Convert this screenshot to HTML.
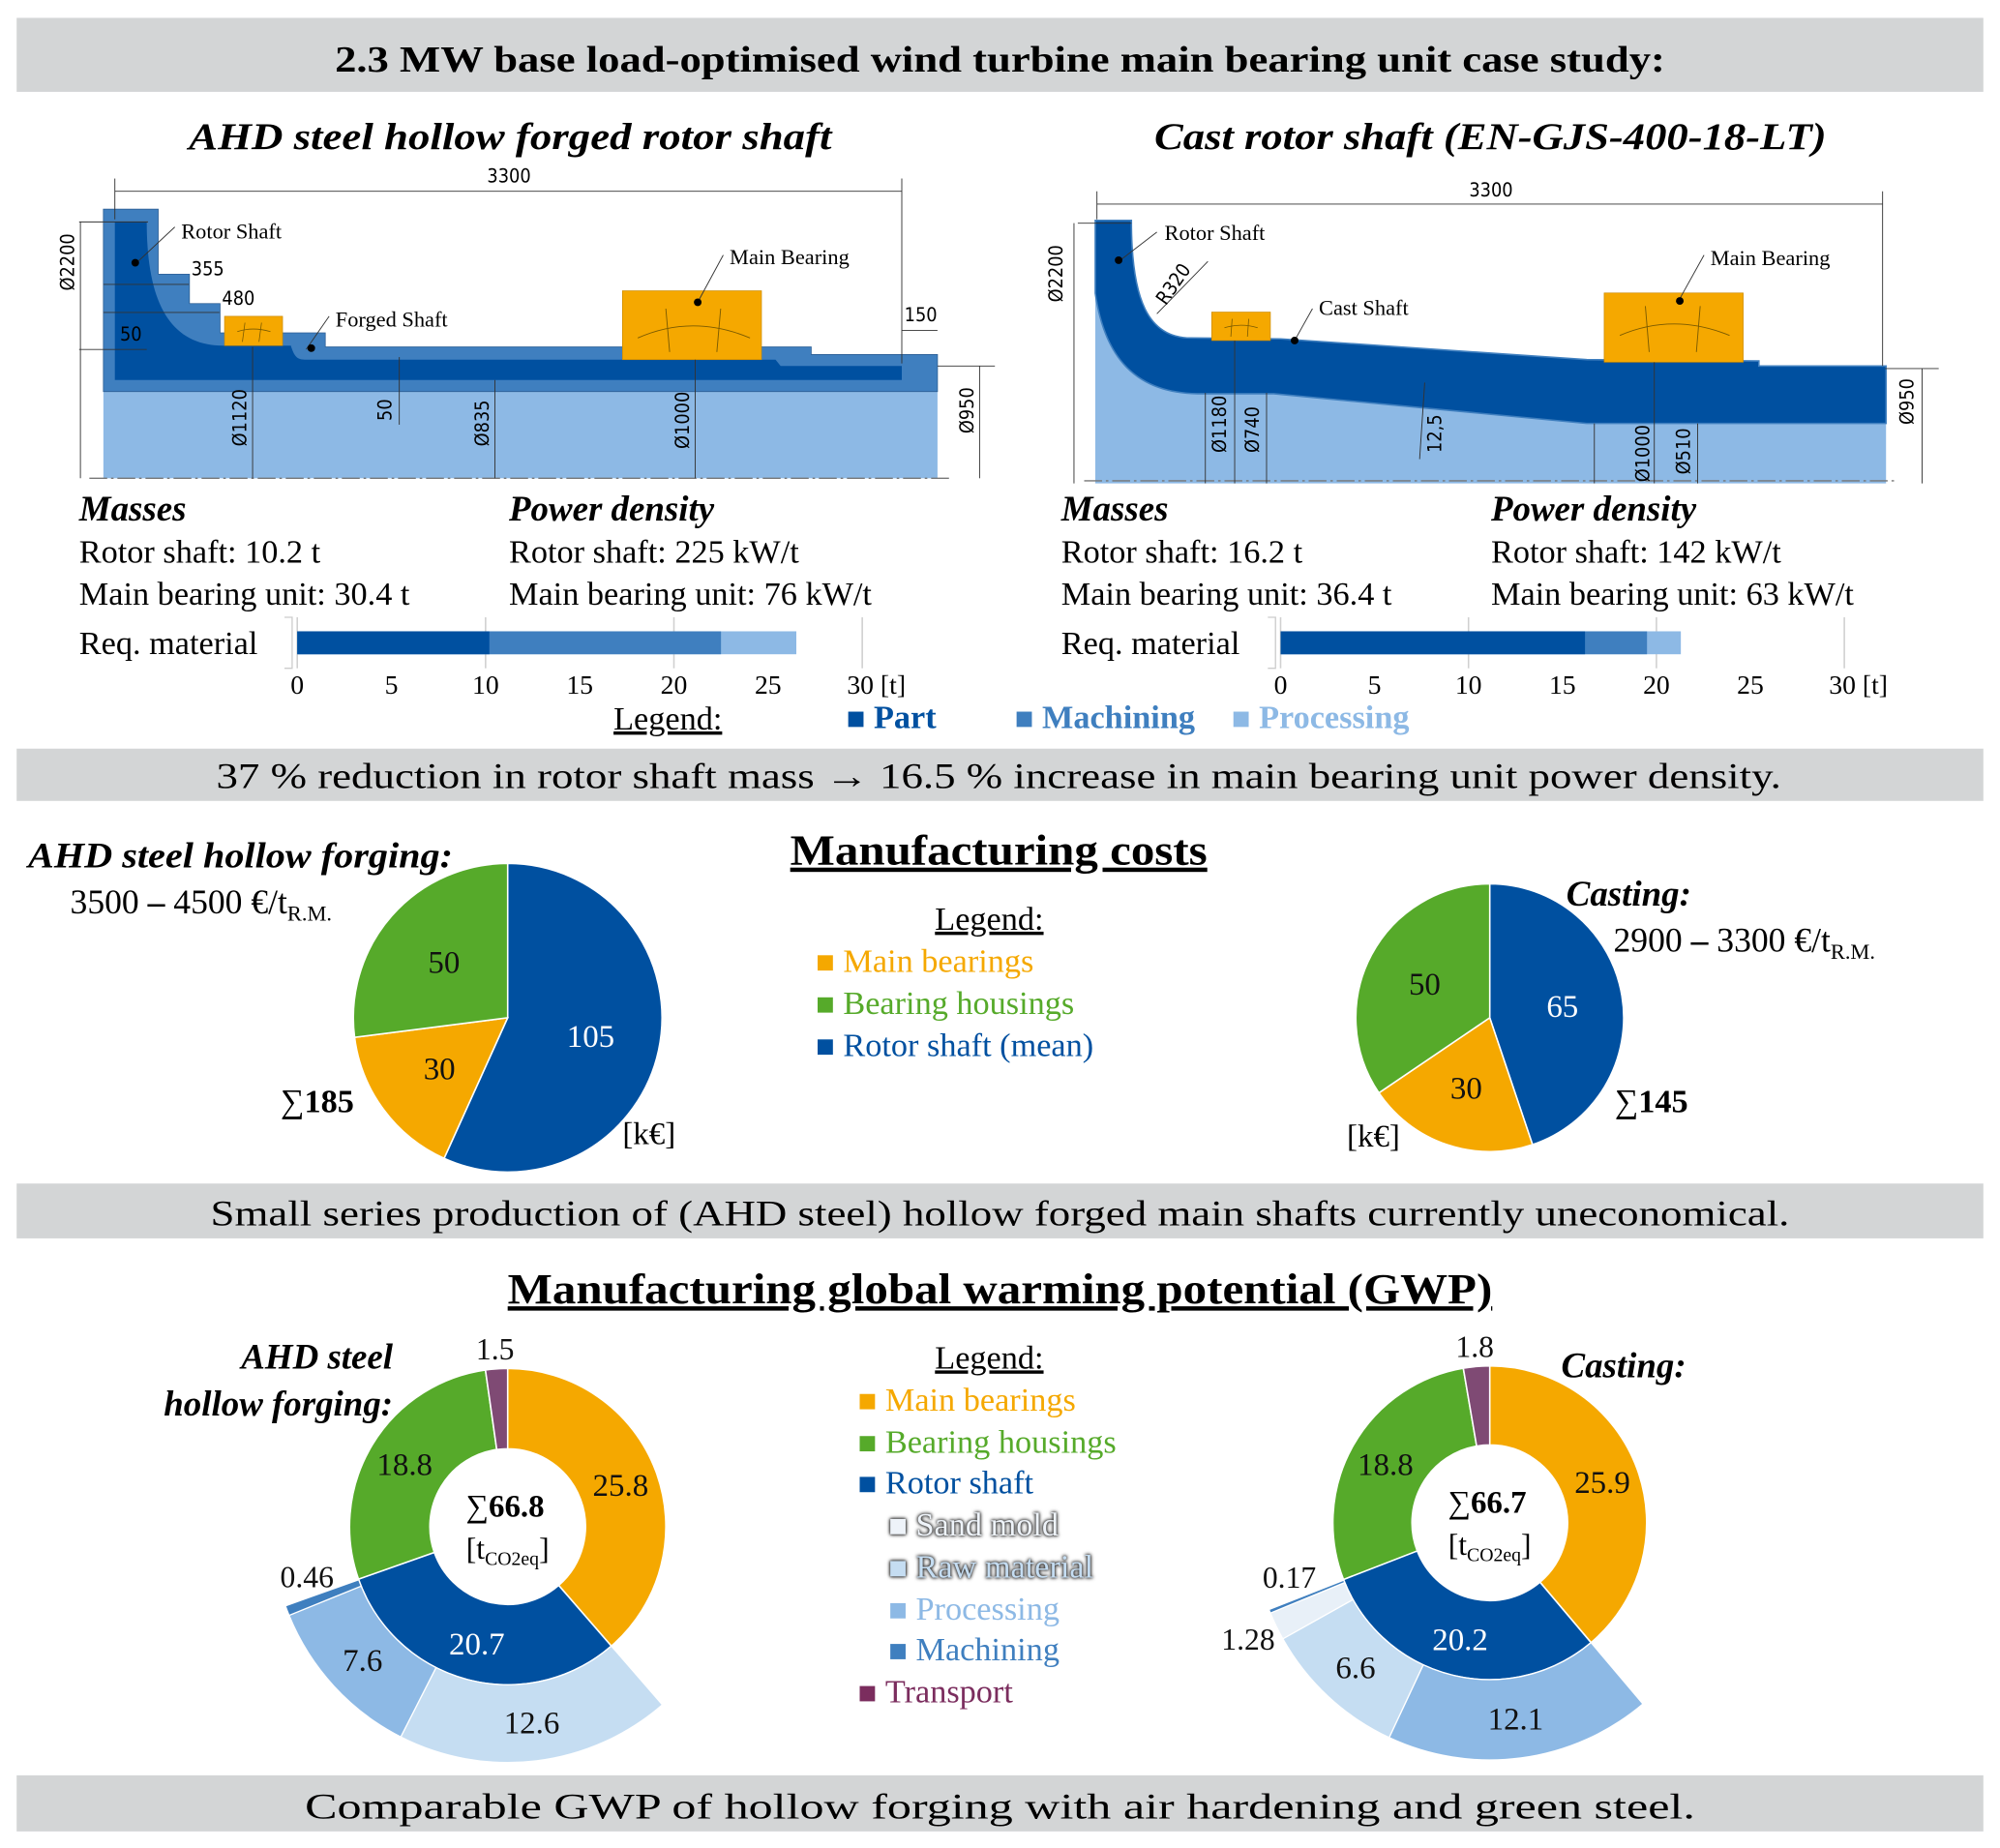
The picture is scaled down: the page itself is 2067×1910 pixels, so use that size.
<!DOCTYPE html>
<html><head><meta charset="utf-8">
<style>
html,body{margin:0;padding:0;background:#fff;}
svg{display:block;font-family:"Liberation Serif",serif;}
.sh{filter:drop-shadow(0 0 1.5px #222) drop-shadow(0 0 1px #444);}
</style></head>
<body>
<svg id="root" width="2067" height="1910" viewBox="0 0 1568 1449" xmlns="http://www.w3.org/2000/svg">
<rect x="13" y="14" width="1542" height="58" fill="#d3d5d6"/>
<text x="784" y="56" text-anchor="middle" font-size="29" font-weight="bold" textLength="1043" lengthAdjust="spacingAndGlyphs">2.3 MW base load-optimised wind turbine main bearing unit case study:</text>

<text x="148" y="117" font-size="30" font-weight="bold" font-style="italic" textLength="504" lengthAdjust="spacingAndGlyphs">AHD steel hollow forged rotor shaft</text>
<text x="905" y="117" font-size="30" font-weight="bold" font-style="italic" textLength="527" lengthAdjust="spacingAndGlyphs">Cast rotor shaft (EN-GJS-400-18-LT)</text>

<g font-family="'DejaVu Sans Condensed','Liberation Sans',sans-serif" font-size="15">
<rect x="81" y="307" width="654" height="68" fill="#8db9e5"/>
<path d="M81,164 L124,164 L124,215 L148.5,215 L148.5,238 L172.5,238 L172.5,261 L255,261 L255,272 L636,272 L636,278 L735,278 L735,307 L81,307 Z" fill="#3f7fbf" stroke="#2d5f95" stroke-width="0.6"/>
<path d="M90,174 L115,174 C115,240 135,271 175,271 L228,271 C231,281 234,282 240,282 L608,282 L612,287 L707,287 L707,298 L90,298 Z" fill="#0050a0"/>
<rect x="176" y="248" width="45.5" height="23" fill="#f5a800" stroke="#c98800" stroke-width="0.5"/>
<rect x="488" y="228" width="109" height="54" fill="#f5a800" stroke="#c98800" stroke-width="0.5"/>
<path d="M186,260 Q198,256 212,260 M192,253 L190,268 M205,253 L203,268" stroke="#7a5a00" fill="none" stroke-width="0.6"/>
<path d="M500,265 Q543,246 588,265 M522,242 L525,276 M565,242 L562,276" stroke="#7a5a00" fill="none" stroke-width="0.7"/>
<line x1="70" y1="375" x2="745" y2="375" stroke="#777" stroke-dasharray="14,3,2,3" stroke-width="1"/>
<g stroke="#333" stroke-width="0.7" fill="none">
<line x1="90" y1="150" x2="707" y2="150"/><line x1="90" y1="140" x2="90" y2="172"/><line x1="707" y1="140" x2="707" y2="285"/>
<line x1="62" y1="174" x2="116" y2="174"/><line x1="63" y1="174" x2="63" y2="375"/>
<line x1="198" y1="272" x2="198" y2="375"/><line x1="388" y1="298" x2="388" y2="375"/><line x1="545" y1="282" x2="545" y2="375"/>
<line x1="313" y1="280" x2="313" y2="333"/><line x1="735" y1="287" x2="780" y2="287"/><line x1="768" y1="287" x2="768" y2="375"/>
<line x1="707" y1="259" x2="735" y2="259"/><line x1="81" y1="223" x2="148" y2="223"/><line x1="81" y1="245" x2="172" y2="245"/>
<line x1="62" y1="274" x2="115" y2="274"/>
<line x1="106" y1="207" x2="137" y2="178"/><line x1="240" y1="274" x2="258" y2="248"/><line x1="547" y1="237" x2="567" y2="200"/>
</g>
<circle cx="106" cy="206" r="3" fill="#000"/><circle cx="244" cy="273" r="3" fill="#000"/><circle cx="547" cy="237" r="3" fill="#000"/>
<text x="399" y="143" text-anchor="middle">3300</text>
<text x="142" y="187" font-family="'Liberation Serif',serif" font-size="17">Rotor Shaft</text>
<text x="150" y="216">355</text><text x="174" y="239">480</text><text x="94" y="267">50</text>
<text x="263" y="256" font-family="'Liberation Serif',serif" font-size="17">Forged Shaft</text>
<text x="572" y="207" font-family="'Liberation Serif',serif" font-size="17">Main Bearing</text>
<text x="709" y="252">150</text>
<text transform="translate(58,228) rotate(-90)">Ø2200</text>
<text transform="translate(193,350) rotate(-90)">Ø1120</text>
<text transform="translate(307,330) rotate(-90)">50</text>
<text transform="translate(383,350) rotate(-90)">Ø835</text>
<text transform="translate(540,352) rotate(-90)">Ø1000</text>
<text transform="translate(763,340) rotate(-90)">Ø950</text>
</g>

<g font-family="'DejaVu Sans Condensed','Liberation Sans',sans-serif" font-size="15">
<path d="M858.7,230 C866,280 890,308 938.7,308.7 L998.7,308.7 L1244,332 L1478.7,332 L1478.7,379 L858.7,379 Z" fill="#8db9e5"/>
<path d="M858.7,172.8 L887,172.8 C887,235 900,265 933.7,265 L1004,265.7 L1244,282 L1379,283 L1379,287 L1478.7,287 L1478.7,332 L1244,332 L998.7,308.7 L938.7,308.7 C890,308 866,280 858.7,230 Z" fill="#0050a0" stroke="#3f7fbf" stroke-width="1.2"/>
<rect x="950" y="244.7" width="46" height="22.3" fill="#f5a800" stroke="#c98800" stroke-width="0.5"/>
<rect x="1257.7" y="229.7" width="109" height="54.3" fill="#f5a800" stroke="#c98800" stroke-width="0.5"/>
<path d="M960,257 Q973,253 986,257 M966,250 L965,264 M979,250 L978,264" stroke="#7a5a00" fill="none" stroke-width="0.6"/>
<path d="M1270,263 Q1312,245 1356,263 M1290,240 L1293,276 M1333,240 L1330,276" stroke="#7a5a00" fill="none" stroke-width="0.7"/>
<line x1="850" y1="377" x2="1488" y2="377" stroke="#777" stroke-dasharray="14,3,2,3" stroke-width="1"/>
<g stroke="#333" stroke-width="0.7" fill="none">
<line x1="860" y1="160" x2="1476" y2="160"/><line x1="860" y1="150" x2="860" y2="172"/><line x1="1476" y1="150" x2="1476" y2="287"/>
<line x1="845" y1="175" x2="887" y2="175"/><line x1="842" y1="175" x2="842" y2="379"/>
<line x1="945" y1="308" x2="945" y2="379"/><line x1="968" y1="267" x2="968" y2="379"/><line x1="993" y1="308" x2="993" y2="379"/>
<line x1="1250" y1="332" x2="1250" y2="379"/><line x1="1297" y1="284" x2="1297" y2="379"/><line x1="1331" y1="332" x2="1331" y2="379"/>
<line x1="1117" y1="300" x2="1113" y2="360"/><line x1="1478" y1="289" x2="1520" y2="289"/><line x1="1507" y1="289" x2="1507" y2="379"/>
<line x1="907" y1="246" x2="947" y2="205"/>
<line x1="877" y1="205" x2="907" y2="182"/><line x1="1015" y1="267" x2="1029" y2="242"/><line x1="1316" y1="236" x2="1336" y2="200"/>
</g>
<circle cx="877" cy="204" r="3" fill="#000"/><circle cx="1015" cy="267" r="3" fill="#000"/><circle cx="1317" cy="236" r="3" fill="#000"/>
<text x="1169" y="154" text-anchor="middle">3300</text>
<text x="913" y="188" font-family="'Liberation Serif',serif" font-size="17">Rotor Shaft</text>
<text transform="translate(914,240) rotate(-55)">R320</text>
<text x="1034" y="247" font-family="'Liberation Serif',serif" font-size="17">Cast Shaft</text>
<text x="1341" y="208" font-family="'Liberation Serif',serif" font-size="17">Main Bearing</text>
<text transform="translate(833,237) rotate(-90)">Ø2200</text>
<text transform="translate(961,355) rotate(-90)">Ø1180</text>
<text transform="translate(987,355) rotate(-90)">Ø740</text>
<text transform="translate(1130,355) rotate(-90)">12,5</text>
<text transform="translate(1293,378) rotate(-90)">Ø1000</text>
<text transform="translate(1325,372) rotate(-90)">Ø510</text>
<text transform="translate(1500,333) rotate(-90)">Ø950</text>
</g>

<g font-size="26">
<text x="62" y="408" font-weight="bold" font-style="italic" font-size="28">Masses</text>
<text x="62" y="441">Rotor shaft: 10.2 t</text>
<text x="62" y="474">Main bearing unit: 30.4 t</text>
<text x="399" y="408" font-weight="bold" font-style="italic" font-size="28">Power density</text>
<text x="399" y="441">Rotor shaft: 225 kW/t</text>
<text x="399" y="474">Main bearing unit: 76 kW/t</text>
<text x="62" y="513">Req. material</text>
</g>
<g font-size="26">
<text x="832" y="408" font-weight="bold" font-style="italic" font-size="28">Masses</text>
<text x="832" y="441">Rotor shaft: 16.2 t</text>
<text x="832" y="474">Main bearing unit: 36.4 t</text>
<text x="1169" y="408" font-weight="bold" font-style="italic" font-size="28">Power density</text>
<text x="1169" y="441">Rotor shaft: 142 kW/t</text>
<text x="1169" y="474">Main bearing unit: 63 kW/t</text>
<text x="832" y="513">Req. material</text>
</g>
<g id="bars"></g>

<g font-size="26">
<text x="481" y="572" text-decoration="underline">Legend:</text>
<rect x="665" y="558" width="12" height="12" fill="#0050a0"/><text x="685" y="571" fill="#0050a0" font-weight="bold">Part</text>
<rect x="797" y="558" width="12" height="12" fill="#3f7fbf"/><text x="817" y="571" fill="#3f7fbf" font-weight="bold">Machining</text>
<rect x="967" y="558" width="12" height="12" fill="#8db9e5"/><text x="987" y="571" fill="#8db9e5" font-weight="bold">Processing</text>
</g>

<rect x="13" y="587" width="1542" height="41" fill="#d3d5d6"/>
<text x="783" y="618" text-anchor="middle" font-size="28" textLength="1227" lengthAdjust="spacingAndGlyphs">37 % reduction in rotor shaft mass → 16.5 % increase in main bearing unit power density.</text>

<text x="783" y="678" text-anchor="middle" font-size="34" font-weight="bold" text-decoration="underline" textLength="327" lengthAdjust="spacingAndGlyphs">Manufacturing costs</text>
<text x="22" y="680" font-size="28" font-weight="bold" font-style="italic" textLength="333" lengthAdjust="spacingAndGlyphs">AHD steel hollow forging:</text>
<text x="55" y="716" font-size="27">3500 <tspan font-weight="bold">–</tspan> 4500 €/t<tspan font-size="17" dy="6">R.M.</tspan></text>
<text x="1228" y="710" font-size="28" font-weight="bold" font-style="italic">Casting:</text>
<text x="1265" y="746" font-size="27">2900 <tspan font-weight="bold">–</tspan> 3300 €/t<tspan font-size="17" dy="6">R.M.</tspan></text>
<g font-size="26">
<text x="733" y="729" text-decoration="underline">Legend:</text>
<rect x="641" y="749" width="12" height="12" fill="#f5a800"/><text x="661" y="762" fill="#f5a800">Main bearings</text>
<rect x="641" y="782" width="12" height="12" fill="#56aa2a"/><text x="661" y="795" fill="#56aa2a">Bearing housings</text>
<rect x="641" y="815" width="12" height="12" fill="#0050a0"/><text x="661" y="828" fill="#0050a0">Rotor shaft (mean)</text>
</g>
<g id="costpies"></g>
<text x="220" y="872" font-size="26">∑<tspan font-weight="bold">185</tspan></text>
<text x="488" y="897" font-size="25">[k€]</text>
<text x="1266" y="872" font-size="26">∑<tspan font-weight="bold">145</tspan></text>
<text x="1056" y="899" font-size="25">[k€]</text>

<rect x="13" y="928" width="1542" height="43" fill="#d3d5d6"/>
<text x="784" y="961" text-anchor="middle" font-size="28" textLength="1238" lengthAdjust="spacingAndGlyphs">Small series production of (AHD steel) hollow forged main shafts currently uneconomical.</text>

<text x="784" y="1022" text-anchor="middle" font-size="34" font-weight="bold" text-decoration="underline" textLength="772" lengthAdjust="spacingAndGlyphs">Manufacturing global warming potential (GWP)</text>
<text x="308" y="1073" text-anchor="end" font-size="28" font-weight="bold" font-style="italic">AHD steel</text>
<text x="308" y="1110" text-anchor="end" font-size="28" font-weight="bold" font-style="italic">hollow forging:</text>
<text x="1224" y="1080" font-size="28" font-weight="bold" font-style="italic">Casting:</text>
<g font-size="26">
<text x="733" y="1073" text-decoration="underline">Legend:</text>
<rect x="674" y="1093" width="12" height="12" fill="#f5a800"/><text x="694" y="1106" fill="#f5a800">Main bearings</text>
<rect x="674" y="1126" width="12" height="12" fill="#56aa2a"/><text x="694" y="1139" fill="#56aa2a">Bearing housings</text>
<rect x="674" y="1158" width="12" height="12" fill="#0050a0"/><text x="694" y="1171" fill="#0050a0">Rotor shaft</text>
<g class="sh"><rect x="698" y="1191" width="12" height="12" fill="#eef3f9"/><text x="718" y="1204" fill="#eef3f9">Sand mold</text></g>
<g class="sh"><rect x="698" y="1224" width="12" height="12" fill="#c5ddf2"/><text x="718" y="1237" fill="#c5ddf2">Raw material</text></g>
<rect x="698" y="1257" width="12" height="12" fill="#8db9e5"/><text x="718" y="1270" fill="#8db9e5">Processing</text>
<rect x="698" y="1289" width="12" height="12" fill="#3f7fbf"/><text x="718" y="1302" fill="#3f7fbf">Machining</text>
<rect x="674" y="1322" width="12" height="12" fill="#7b2d5e"/><text x="694" y="1335" fill="#7b2d5e">Transport</text>
</g>
<g id="donuts"></g>

<rect x="13" y="1392" width="1542" height="44" fill="#d3d5d6"/>
<text x="784" y="1426" text-anchor="middle" font-size="28" textLength="1090" lengthAdjust="spacingAndGlyphs">Comparable GWP of hollow forging with air hardening and green steel.</text>
</svg>

<script>
const barTicks = [0, 5, 10, 15, 20, 25, 30];
const forgedMaterial = [10.2, 22.5, 26.5];
const castMaterial = [16.2, 19.5, 21.3];
const costCategories = ["Rotor shaft (mean)", "Main bearings", "Bearing housings"];
const forgedCost = [105, 30, 50];
const castCost = [65, 30, 50];
const gwpCategories = ["Main bearings", "Rotor shaft", "Bearing housings", "Transport"];
const forgedGwp = [25.8, 20.7, 18.8, 1.5];
const castGwp = [25.9, 20.2, 18.8, 1.8];
const forgedShaftParts = ["Raw material", "Processing", "Machining"];
const forgedShaftGwp = [12.6, 7.6, 0.46];
const castShaftParts = ["Processing", "Raw material", "Sand mold", "Machining"];
const castShaftGwp = [12.1, 6.6, 1.28, 0.17];

const NS = "http://www.w3.org/2000/svg";
function mk(tag, attrs, parent) {
  const e = document.createElementNS(NS, tag);
  for (const k in attrs) e.setAttribute(k, attrs[k]);
  parent.appendChild(e);
  return e;
}
const colors = {"Main bearings":"#f5a800","Bearing housings":"#56aa2a","Rotor shaft":"#0050a0","Rotor shaft (mean)":"#0050a0","Transport":"#7f4a74","Raw material":"#c5ddf2","Processing":"#8db9e5","Machining":"#3f7fbf","Sand mold":"#e8f0f8"};
const matColors = ["#0050a0", "#3f7fbf", "#8db9e5"];
const matNames = ["part", "machining", "processing"];

const barsG = document.getElementById("bars");
function drawBar(x0, x30, vals, prefix) {
  const sx = v => x0 + (x30 - x0) * v / 30;
  const g = mk("g", {}, barsG);
  
  
  [0, 10, 20, 30].forEach(t => {
    const l = mk("line", {x1: sx(t), x2: sx(t), y1: 484, y2: 524, stroke: "#d0d0d0", "stroke-width": 1.2}, g);
    
    
  });
  mk("path", {d: `M${x0-10},484 L${x0-4},484 L${x0-4},524 L${x0-10},524`, stroke: "#ccc", fill: "none"}, g);
  for (let i = vals.length - 1; i >= 0; i--) {
    const r = mk("rect", {x: sx(0), y: 495, width: sx(vals[i]) - sx(0), height: 18, fill: matColors[i]}, g);
    
    
  }
  barTicks.forEach(t => {
    const tx = mk("text", {x: sx(t), y: 544, "font-size": 21, "text-anchor": t === 30 ? "start" : "middle"}, g);
    if (t === 30) tx.setAttribute("x", sx(t) - 12);
    tx.textContent = t === 30 ? "30 [t]" : String(t);
    
    
  });
}
drawBar(233, 676, forgedMaterial, "forged");
drawBar(1004, 1446, castMaterial, "cast");

function pt(cx, cy, r, a) { return [cx + r * Math.sin(a), cy - r * Math.cos(a)]; }
function arc(cx, cy, r0, r1, a0, a1) {
  const large = (a1 - a0) > Math.PI ? 1 : 0;
  const p1 = pt(cx, cy, r1, a0), p2 = pt(cx, cy, r1, a1);
  if (r0 <= 0) return `M${cx},${cy} L${p1} A${r1},${r1} 0 ${large} 1 ${p2} Z`;
  const p3 = pt(cx, cy, r0, a1), p4 = pt(cx, cy, r0, a0);
  return `M${p1} A${r1},${r1} 0 ${large} 1 ${p2} L${p3} A${r0},${r0} 0 ${large} 0 ${p4} Z`;
}
function label(parent, x, y, txt, fill, size) {
  const t = mk("text", {x: x, y: y + size * 0.35, "text-anchor": "middle", "font-size": size, fill: fill}, parent);
  t.textContent = txt;
  
  
}

const costG = document.getElementById("costpies");
function drawPie(cx, cy, r, vals, prefix) {
  const g = mk("g", {}, costG);
  
  
  const tot = vals.reduce((a, b) => a + b, 0);
  let acc = 0;
  vals.forEach((v, i) => {
    const a0 = acc / tot * 2 * Math.PI, a1 = (acc + v) / tot * 2 * Math.PI;
    const p = mk("path", {d: arc(cx, cy, 0, r, a0, a1), fill: colors[costCategories[i]], stroke: "#fff", "stroke-width": 1.2}, g);
    
    
    const m = (a0 + a1) / 2, q = pt(cx, cy, r * 0.55, m);
    label(g, q[0], q[1], String(v), i === 0 ? "#fff" : "#111", 25);
    acc += v;
  });
}
drawPie(398, 798, 121, forgedCost, "forged");
drawPie(1168, 798, 105, castCost, "cast");

const donutG = document.getElementById("donuts");
function drawDonut(cx, cy, rin, rout, rext, vals, subNames, subVals, total, prefix) {
  const g = mk("g", {}, donutG);
  
  
  const tot = vals.reduce((a, b) => a + b, 0);
  let acc = 0;
  vals.forEach((v, i) => {
    const a0 = acc / tot * 2 * Math.PI, a1 = (acc + v) / tot * 2 * Math.PI;
    const p = mk("path", {d: arc(cx, cy, rin, rout, a0, a1), fill: colors[gwpCategories[i]], stroke: "#fff", "stroke-width": 1.2}, g);
    
    
    const m = (a0 + a1) / 2;
    if (v < 5) { const q = pt(cx, cy, rout + 16, m); label(g, q[0], q[1], String(v), "#111", 24); }
    else { const q = pt(cx, cy, (rin + rout) / 2 + 2, m); label(g, q[0], q[1], String(v), i === 1 ? "#fff" : "#111", 25); }
    if (i === 1) {
      let sacc = acc;
      subVals.forEach((sv, j) => {
        const b0 = sacc / tot * 2 * Math.PI, b1 = (sacc + sv) / tot * 2 * Math.PI;
        const sp = mk("path", {d: arc(cx, cy, rout, rext, b0, b1), fill: colors[subNames[j]], stroke: "#fff", "stroke-width": 1}, g);
        
        
        const sm = (b0 + b1) / 2;
        if (sv < 1) { const q = pt(cx, cy, rext - 8, sm); label(g, q[0] + 8, q[1] - 24, String(sv), "#111", 24); }
        else if (sv < 3) { const q = pt(cx, cy, rext, sm); label(g, q[0] - 22, q[1] + 10, String(sv), "#111", 24); }
        else { const q = pt(cx, cy, (rout + rext) / 2, sm); label(g, q[0], q[1], String(sv), "#111", 25); }
        sacc += sv;
      });
    }
    acc += v;
  });
  const t1 = mk("text", {x: cx - 2, y: cy - 8, "text-anchor": "middle", "font-size": 25}, g);
  t1.innerHTML = '∑<tspan font-weight="bold">' + total + '</tspan>';
  
  
  const t2 = mk("text", {x: cx, y: cy + 25, "text-anchor": "middle", "font-size": 24}, g);
  t2.innerHTML = '[t<tspan font-size="15" dy="5">CO2eq</tspan><tspan dy="-5">]</tspan>';
  
  
}
drawDonut(398, 1197, 61, 124, 185, forgedGwp, forgedShaftParts, forgedShaftGwp, "66.8", "forged");
drawDonut(1168, 1194, 61, 123, 186, castGwp, castShaftParts, castShaftGwp, "66.7", "cast");
</script>
</body></html>
